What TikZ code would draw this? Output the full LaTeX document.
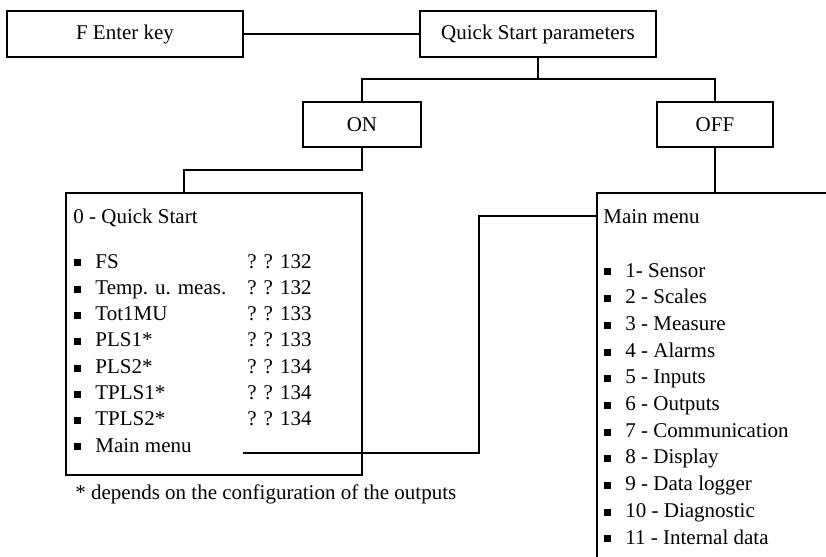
\documentclass[tikz,border=0pt]{standalone}
\usepackage{fontspec}
\setmainfont{Liberation Serif}
\usetikzlibrary{positioning, calc}
\newcommand{\itembul}{\rule[0.8pt]{3.5pt}{3.5pt}}
\tikzset{
  box/.style={rectangle, draw, line width=0.6pt, inner sep=0pt, minimum height=23pt},
  line/.style={line width=0.6pt},
  txt/.style={anchor=base west, inner sep=0pt},
  item/.style={txt, execute at begin node={\makebox[10.5pt][l]{\itembul}}}
}

\begin{document}
\begin{tikzpicture}[x=0.5pt, y=-0.5pt, font=\fontsize{10.5}{12.6}\selectfont]
  \useasboundingbox (0,0) rectangle (826,557);
  % top row
  \node[box, minimum width=118pt] (enterkey) at (125,34) {F Enter key};
  \node[box, minimum width=118pt] (qsparams) at (538,34) {Quick Start parameters};
  \draw[line] (enterkey) -- (qsparams);
  % ON / OFF
  \node[box, minimum width=59pt, minimum height=22.5pt] (onbox) at (362,124.5) {ON};
  \node[box, minimum width=58pt, minimum height=22.5pt] (offbox) at (715,124.5) {OFF};
  \coordinate (split) at (538,79);
  \draw[line] (qsparams.south) -- (split);
  \draw[line] (onbox.north) |- (split) -| (offbox.north);
  % Quick Start menu
  \node[box, minimum width=148pt, minimum height=141pt] (qsmenu) at (214,334) {};
  \coordinate (onjog) at (184,170);
  \draw[line] (onbox.south) |- (onjog) -- (onjog |- qsmenu.north);
  \node[txt] (qshead) at (73,223) {0 - Quick Start};
  \foreach \name/\num [count=\i] in {FS/? ? 132, Temp. u. meas./? ? 132, Tot1MU/? ? 133,
      PLS1*/? ? 133, PLS2*/? ? 134, TPLS1*/? ? 134, TPLS2*/? ? 134}
  {
    \node[item] (qsitem\i) at (74,{268+26.3*(\i-1)}) {\name};
    \node[txt] (qsnum\i) at (247,{268+26.3*(\i-1)}) {\num};
  }
  \node[item] (qsmain) at (74,452) {Main menu};
  \node[txt] (footnote) at (75,499) {* depends on the configuration of the outputs};
  % Main menu panel (cut off at right and bottom)
  \coordinate (mmcorner) at (597,193);
  \draw[line] (826,193) -- (mmcorner) -- (597,557);
  \draw[line] (offbox.south) -- (offbox.south |- mmcorner);
  \node[txt] (mmhead) at (603,223) {Main menu};
  \foreach \name [count=\i] in {1- Sensor, 2 - Scales, 3 - Measure, 4 - Alarms, 5 - Inputs,
      6 - Outputs, 7 - Communication, 8 - Display, 9 - Data logger, 10 - Diagnostic,
      11 - Internal data}
    \node[item] (mmitem\i) at (604,{277+26.7*(\i-1)}) {\name};
  % link from Main menu item
  \coordinate (mmfrom) at (243,453);
  \coordinate (mmjog) at (479,300);
  \coordinate (mmto) at (597,216);
  \draw[line] (mmfrom) -| (mmjog) |- (mmto);
\end{tikzpicture}
\end{document}
